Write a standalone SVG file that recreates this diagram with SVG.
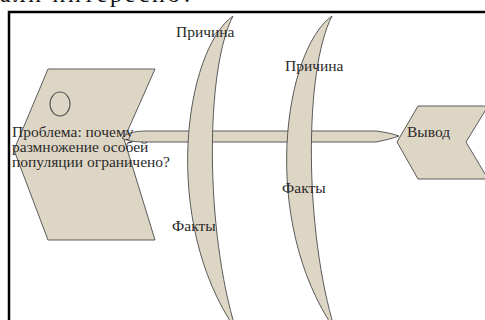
<svg xmlns="http://www.w3.org/2000/svg" width="485" height="320" viewBox="0 0 485 320">
<style>
.sh{fill:#ded6c5;stroke:#5a5a5a;stroke-width:1}
.t{font-family:"Liberation Serif","Times New Roman",serif;font-size:15.5px;fill:#2a2a2a}
</style>
<rect width="485" height="320" fill="#fff"/>
<text x="0" y="2" textLength="193" lengthAdjust="spacing" style="font-family:'Liberation Serif',serif;font-size:24px;fill:#111">али интересно?</text>
<rect x="9" y="12" width="500" height="400" fill="none" stroke="#000" stroke-width="2.5"/>
<g id="head">
<polygon class="sh" points="48,69 155,69 124,139 155,240 48,240 14,150"/>
<ellipse cx="60" cy="104" rx="10" ry="12" fill="none" stroke="#5a5a5a" stroke-width="1.2"/>
</g>
<g id="connectors">
<path class="sh" d="M122,138 Q128,131 145,131 L376,131 Q391,133 399,136 Q391,139 376,142 L145,142 Q128,142 122,138 Z"/>
</g>
<g id="bone1">
<path class="sh" d="M233,16 C185,50 160,220 236,330 C205,230 205,70 233,16 Z"/>
</g>
<g id="bone2">
<path class="sh" transform="translate(99,0)" d="M233,16 C185,50 160,220 236,330 C205,230 205,70 233,16 Z"/>
</g>
<g id="tail">
<polygon class="sh" points="397,142 418,106 488,106 466,142 488,179 418,179"/>
<text class="t" x="407" y="137">Вывод</text>
</g>
<g id="problem">
<text class="t" x="12" y="137">Проблема: почему</text>
<text class="t" x="12" y="152">размножение особей</text>
<text class="t" x="12" y="167">популяции ограничено?</text>
</g>
<g id="labels">
<text class="t" x="176" y="37">Причина</text>
<text class="t" x="285" y="71">Причина</text>
<text class="t" x="172" y="231">Факты</text>
<text class="t" x="282" y="193">Факты</text>
</g>
</svg>
